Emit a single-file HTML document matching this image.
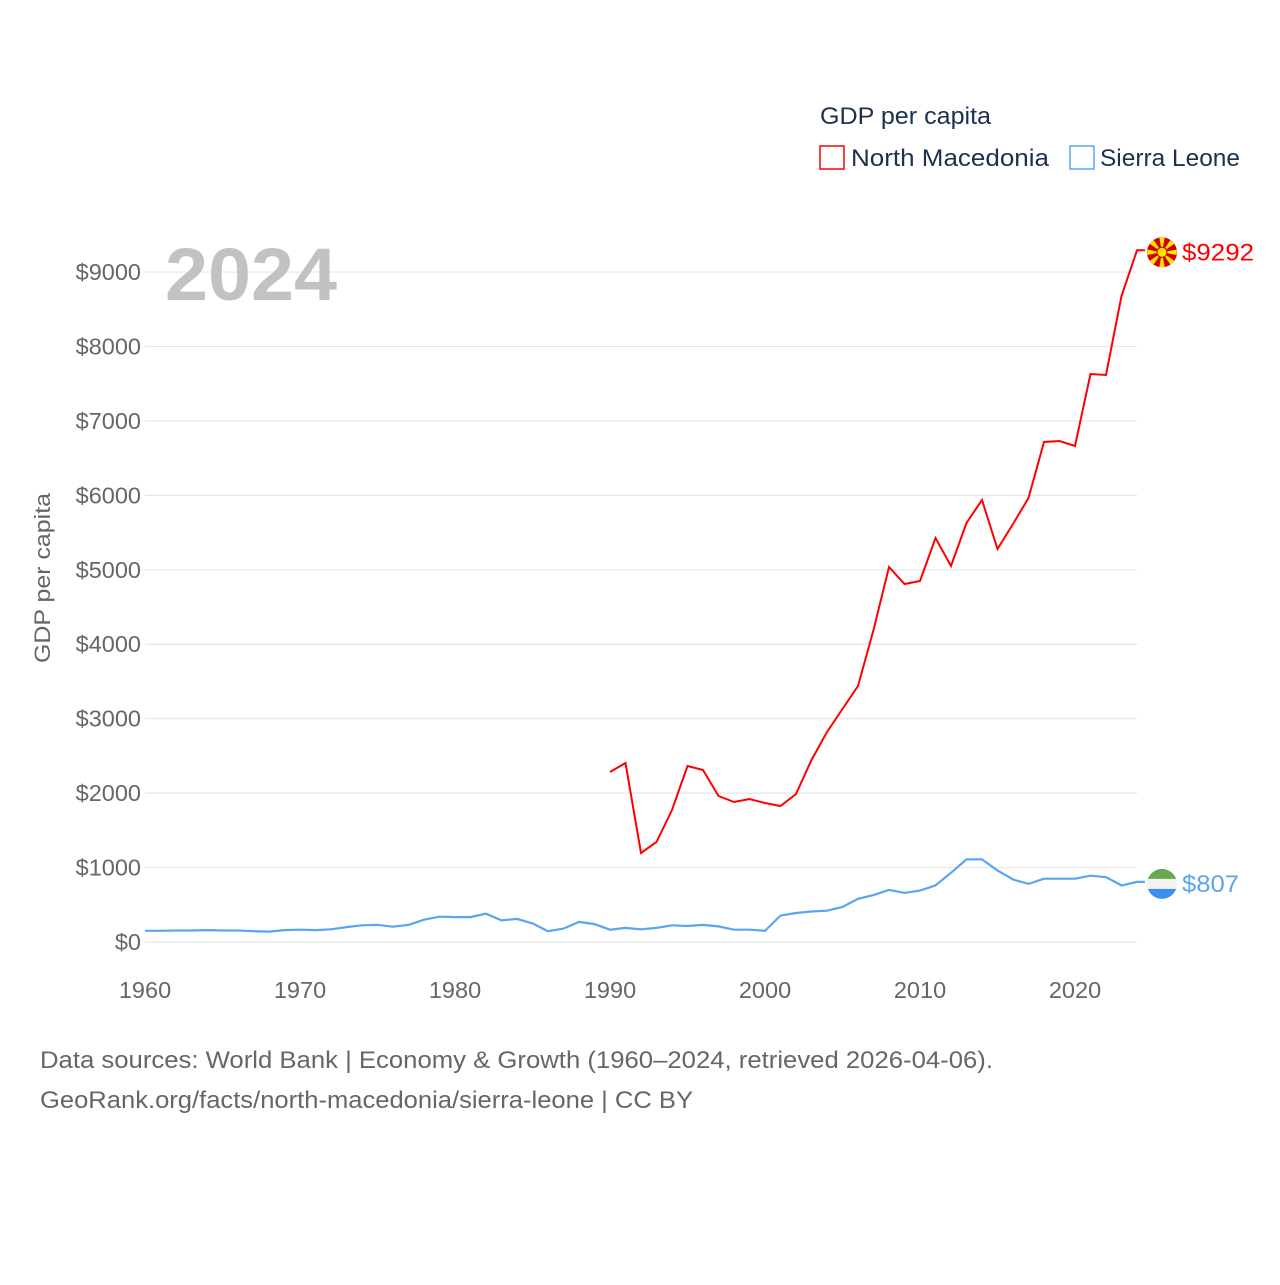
<!DOCTYPE html>
<html><head><meta charset="utf-8">
<style>
body{margin:0;background:#fff;}
svg text{font-family:"Liberation Sans",sans-serif;}
</style></head>
<body>
<svg id="chart" width="1280" height="1280" xmlns="http://www.w3.org/2000/svg">
<rect width="1280" height="1280" fill="#fff"/>
<g id="grid"></g>
<g id="yticks"></g>
<g id="xticks"></g>
<text x="165" y="300" font-size="74" font-weight="bold" fill="#c2c2c2" textLength="172" lengthAdjust="spacingAndGlyphs">2024</text>
<text transform="translate(50,578) rotate(-90)" text-anchor="middle" font-size="22" fill="#666" textLength="170" lengthAdjust="spacingAndGlyphs">GDP per capita</text>
<text x="820" y="124" font-size="24" fill="#1d3050" textLength="171" lengthAdjust="spacingAndGlyphs">GDP per capita</text>
<g>
<rect x="820" y="146" width="24" height="23" fill="none" stroke="#f00" stroke-width="1.5"/>
<text x="851" y="166" font-size="24" fill="#1d3050" textLength="198" lengthAdjust="spacingAndGlyphs">North Macedonia</text></g>
<g>
<rect x="1070" y="146" width="24" height="23" fill="none" stroke="#5aa5ef" stroke-width="1.5"/>
<text x="1100" y="166" font-size="24" fill="#1d3050" textLength="140" lengthAdjust="spacingAndGlyphs">Sierra Leone</text></g>
<path id="nm" fill="none" stroke="#f00" stroke-width="2"/>
<path id="sl" fill="none" stroke="#5aa5ef" stroke-width="2.2"/>
<g id="ends"></g>
<text x="40" y="1068" font-size="24" fill="#666" textLength="953" lengthAdjust="spacingAndGlyphs">Data sources: World Bank | Economy &amp; Growth (1960–2024, retrieved 2026-04-06).</text>
<text x="40" y="1108" font-size="24" fill="#666" textLength="653" lengthAdjust="spacingAndGlyphs">GeoRank.org/facts/north-macedonia/sierra-leone | CC BY</text>
</svg>
<script>
const yTicks=[0,1000,2000,3000,4000,5000,6000,7000,8000,9000];
const xTicks=[1960,1970,1980,1990,2000,2010,2020];
const nmStart=1990;
const nmValues=[2284,2405,1196,1343,1773,2364,2311,1961,1881,1921,1867,1827,1988,2445,2821,3130,3439,4191,5037,4809,4850,5427,5051,5629,5938,5279,5615,5964,6717,6730,6663,7630,7617,8678,9292];
const slStart=1960;
const slValues=[150,150,155,155,160,155,155,145,140,160,165,160,170,200,225,230,205,230,300,340,335,335,380,290,310,250,145,180,270,240,165,190,170,190,225,215,230,210,165,165,150,355,390,410,420,470,580,630,700,660,690,760,930,1110,1110,960,840,780,850,850,850,890,870,760,807];
const NS="http://www.w3.org/2000/svg";
const X=yr=>145+(yr-1960)*15.5;
const Y=v=>942-v*0.07444;
function mk(tag,attrs,parent,txt){const e=document.createElementNS(NS,tag);for(const k in attrs)e.setAttribute(k,attrs[k]);if(txt!=null)e.textContent=txt;parent.appendChild(e);return e;}
const grid=document.getElementById('grid'),yt=document.getElementById('yticks'),xt=document.getElementById('xticks');
yTicks.forEach(v=>{
 const l=mk('line',{x1:145,x2:1137,y1:Y(v),y2:Y(v),stroke:'#e6e6e6','stroke-width':1.2},grid);
 
 
 const t=mk('text',{x:141,y:Y(v)+8,'text-anchor':'end','font-size':23.5,fill:'#666'},yt,'$'+v);
 
 
});
xTicks.forEach(yr=>{
 const t=mk('text',{x:X(yr),y:998,'text-anchor':'middle','font-size':23.5,fill:'#666'},xt,String(yr));
 
 
});
function path(start,vals,ext){let d=vals.map((v,i)=>(i?'L':'M')+X(start+i).toFixed(1)+','+Y(v).toFixed(1)).join('');if(ext)d+='L'+(X(start+vals.length-1)+ext)+','+Y(vals[vals.length-1]).toFixed(1);return d;}
document.getElementById('nm').setAttribute('d',path(nmStart,nmValues,8));
document.getElementById('sl').setAttribute('d',path(slStart,slValues,8));
const ends=document.getElementById('ends');
const nmLast=nmValues[nmValues.length-1],slLast=slValues[slValues.length-1];
const cy1=Y(nmLast)+2,cx=1162;
const fg=mk('g',{},ends);


mk('circle',{cx:cx,cy:cy1,r:15,fill:'#d20000'},fg);
for(let i=0;i<8;i++){const a=i*Math.PI/4;const a1=a-0.18,a2=a+0.18;
 mk('polygon',{points:`${cx},${cy1} ${cx+15*Math.cos(a1)},${cy1+15*Math.sin(a1)} ${cx+15*Math.cos(a2)},${cy1+15*Math.sin(a2)}`,fill:'#ffe600'},fg);}
mk('circle',{cx:cx,cy:cy1,r:5,fill:'#ffe600',stroke:'#d20000','stroke-width':1},fg);
const l1=mk('text',{x:1182,y:cy1+8,'font-size':24,fill:'#f00',textLength:72,lengthAdjust:'spacingAndGlyphs'},ends,'$'+nmLast);


const cy2=Y(slLast)+2;
const sg=mk('g',{},ends);


mk('clipPath',{id:'slc'},sg);
mk('circle',{cx:cx,cy:cy2,r:15},document.getElementById('slc'));
mk('rect',{x:cx-15,y:cy2-15,width:30,height:10,fill:'#6aa84f','clip-path':'url(#slc)'},sg);
mk('rect',{x:cx-15,y:cy2-5,width:30,height:10,fill:'#f2f2f2','clip-path':'url(#slc)'},sg);
mk('rect',{x:cx-15,y:cy2+5,width:30,height:10,fill:'#3a8ff0','clip-path':'url(#slc)'},sg);
const l2=mk('text',{x:1182,y:cy2+8,'font-size':24,fill:'#5aa5ef',textLength:57,lengthAdjust:'spacingAndGlyphs'},ends,'$'+slLast);


</script>
</body></html>
